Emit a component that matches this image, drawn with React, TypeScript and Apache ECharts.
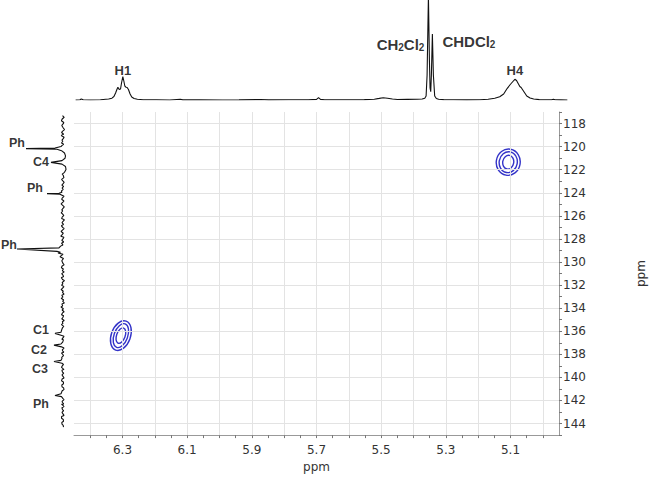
import React, { useEffect, useRef } from "react";
import * as echarts from "echarts";

// ---------- data ----------
// 1H projection (top): chemical shift (ppm) and intensity
const topPpm = [6.445, 6.432, 6.428, 6.422, 6.4, 6.37, 6.345, 6.335, 6.329, 6.324, 6.32, 6.317, 6.313, 6.309, 6.306, 6.302, 6.299, 6.296, 6.292, 6.289, 6.285, 6.28, 6.275, 6.268, 6.258, 6.24, 6.2, 6.16, 6.128, 6.12, 6.07, 6.0, 5.95, 5.885, 5.86, 5.8, 5.74, 5.715, 5.709, 5.703, 5.69, 5.62, 5.57, 5.54, 5.525, 5.513, 5.5, 5.485, 5.47, 5.44, 5.41, 5.395, 5.387, 5.383, 5.38, 5.376, 5.373, 5.371, 5.369, 5.367, 5.364, 5.361, 5.357, 5.352, 5.345, 5.33, 5.3, 5.26, 5.22, 5.195, 5.175, 5.16, 5.148, 5.137, 5.128, 5.12, 5.114, 5.109, 5.104, 5.099, 5.095, 5.09, 5.085, 5.078, 5.068, 5.057, 5.04, 5.02, 5.003, 4.997, 4.992, 4.975, 4.955];
const topInt = [0, 0.3, 1, 0.2, 0, 0.3, 1, 1.8, 3.5, 7, 10.5, 12.7, 10.5, 11, 17, 23.3, 19, 14, 12.7, 12.5, 10.5, 6, 3, 1.5, 0.7, 0.3, 0.2, 0, 0.7, 0.1, 0.1, 0, 0.1, 0.5, 0.1, 0.2, 0.3, 0.6, 2.3, 0.6, 0.2, 0.2, 0.4, 0.8, 1.6, 2.3, 1.8, 1, 0.5, 0.6, 0.7, 1, 1.8, 4, 25, 104, 40, 12, 8.3, 25, 66, 25, 4, 1.5, 0.8, 0.4, 0.3, 0.1, 0.3, 0.8, 1.8, 3.3, 6, 11.7, 15.5, 18.5, 20.7, 19.5, 16.5, 13.5, 12.5, 10, 7.5, 4, 2, 1, 0.4, 0.2, 0.3, 0.8, 0.2, 0.1, 0];

// top peak labels
const topLabelNames = ["H1", "CH2Cl2", "CHDCl2", "H4"];
const topLabelPpm = [6.302, 5.376, 5.364, 5.114];
const topLabelInt = [23.3, 57, 60, 20.7];

// 13C projection (left): chemical shift (ppm) and intensity
const leftPpm = [117.3, 117.45, 117.6, 117.75, 117.9, 118.0, 118.15, 118.3, 118.5, 118.65, 118.75, 118.9, 119.0, 119.15, 119.25, 119.4, 119.5, 119.65, 119.75, 119.85, 119.95, 120.08, 120.13, 120.18, 120.3, 120.5, 120.75, 120.95, 121.15, 121.3, 121.45, 121.65, 121.9, 122.15, 122.3, 122.4, 122.6, 122.75, 122.85, 123.0, 123.1, 123.25, 123.35, 123.5, 123.6, 123.75, 123.85, 123.94, 123.97, 124.02, 124.2, 124.35, 124.45, 124.6, 124.7, 124.85, 124.95, 125.1, 125.2, 125.35, 125.45, 125.6, 125.7, 125.85, 125.95, 126.1, 126.2, 126.35, 126.45, 126.6, 126.7, 126.85, 126.95, 127.1, 127.2, 127.35, 127.45, 127.6, 127.7, 127.85, 127.95, 128.1, 128.2, 128.35, 128.45, 128.6, 128.7, 128.9, 128.97, 129.03, 129.15, 129.35, 129.5, 129.7, 129.9, 130.05, 130.15, 130.3, 130.4, 130.55, 130.65, 130.8, 130.9, 131.05, 131.15, 131.3, 131.4, 131.55, 131.65, 131.8, 131.9, 132.05, 132.15, 132.3, 132.4, 132.55, 132.65, 132.8, 132.9, 133.05, 133.15, 133.3, 133.4, 133.55, 133.65, 133.8, 133.9, 134.05, 134.15, 134.3, 134.4, 134.55, 134.65, 134.8, 134.9, 135.05, 135.15, 135.3, 135.4, 135.55, 135.65, 135.8, 135.9, 136.05, 136.15, 136.35, 136.4, 136.45, 136.65, 136.8, 136.9, 137.05, 137.15, 137.3, 137.4, 137.5, 137.58, 137.7, 137.8, 137.95, 138.05, 138.2, 138.3, 138.45, 138.55, 138.7, 138.8, 138.93, 138.97, 139.05, 139.2, 139.3, 139.45, 139.55, 139.7, 139.8, 139.95, 140.05, 140.2, 140.3, 140.45, 140.55, 140.7, 140.8, 140.95, 141.05, 141.2, 141.3, 141.45, 141.55, 141.7, 141.8, 141.92, 141.96, 142.02, 142.15, 142.25, 142.4, 142.5, 142.65, 142.75, 142.9, 143.0, 143.15, 143.25, 143.4, 143.5, 143.65, 143.75, 143.9, 144.0, 144.15, 144.25, 144.4, 144.5, 144.65, 144.8];
const leftInt = [0.5, -1.2, 0.8, 1.6, -0.8, -0.3, 1.2, 0.2, -1.5, 0.6, 1.4, -0.6, 1.8, -1.1, -0.4, 1.0, 0.2, 1.5, -0.7, 0.9, 2, 8, 37, 6, 1.5, -1.5, -2.5, -2, 1, 12, 1, -2.5, -3, -1.5, 0.8, -0.2, -0.9, 1.4, 0.4, -1.2, -0.3, 1.1, -0.6, 0.9, -0.2, 1.7, 1.0, 4, 16, 3, -1, 0.8, 1.3, -0.9, 0.1, 1.9, 0.6, -1.3, -0.2, 1.2, 0.3, 1.8, 0.5, -0.8, 0.7, 1.4, -1.4, 0.2, 1.0, -0.5, 1.6, 0.4, -1.1, 0.8, 1.9, -0.3, 0.6, 2.2, -0.9, 0.3, 1.2, -0.7, 1.5, 0.1, 2.4, 4, 46, 6, 2.5, 5, 0, 3, -0.5, 1.2, 0.2, -1.1, 0.9, 1.6, -0.4, 0.7, -1.2, 1.3, 0.3, -0.6, 1.7, 0.4, -1.5, 0.8, 0.2, 1.4, -0.9, 0.6, 1.9, -0.3, 0.5, -1.0, 1.2, 0.1, 1.8, -0.7, 0.4, -1.3, 1.1, 0.3, 2.0, -0.4, 0.9, -1.1, 0.5, 1.5, -0.6, 0.2, 1.3, -1.2, 0.7, 0.1, 1.6, -0.8, 0.4, 1.1, 1.5, 2, 8, 2, -1, 0.6, 1.2, -0.4, 0.3, 2, 9, 1.5, -1, 0.7, 0.4, -0.8, 1.5, 0.2, -0.5, 1.3, 1, 2, 9, 1, -0.5, 0.9, 1.5, -0.3, -1, 1.1, 0.5, -0.7, 1, 0.2, -1, 0.9, 1.5, -0.4, -0.5, 1.2, 1, -0.6, -1, 0.8, 1.5, 2, 8, 1.5, 0.2, -1, 0.9, 0.5, -0.7, 1.5, 0.3, -1, 1.1, 0.5, -0.6, 1, 0.2, -1, 1.4, 1.5, -0.3, -0.5, 1.2, 1, -0.2, -0.5];

// left peak labels
const leftLabelNames = ["Ph", "C4", "Ph", "Ph", "C1", "C2", "C3", "Ph"];
const leftLabelPpm = [120.13, 121.3, 123.97, 128.97, 136.4, 137.5, 138.97, 141.96];
const leftLabelInt = [37, 12, 16, 46, 8, 9, 9, 8];

// HSQC cross-peak contours: centre (1H ppm, 13C ppm), half-widths (ppm), tilt (deg)
const contourH = [5.107, 5.107, 5.107, 6.305, 6.305, 6.305];
const contourC = [121.35, 121.35, 121.35, 136.38, 136.38, 136.38];
const contourRH = [0.037, 0.028, 0.017, 0.0297, 0.0212, 0.0133];
const contourRC = [1.14, 0.91, 0.6, 1.33, 1.08, 0.7];
const contourTilt = [-10, -10, -10, -20, -20, -20];

// axes
const xTickLabels = [6.3, 6.1, 5.9, 5.7, 5.5, 5.3, 5.1];
const xGridLines = [6.4, 6.3, 6.2, 6.1, 6.0, 5.9, 5.8, 5.7, 5.6, 5.5, 5.4, 5.3, 5.2, 5.1, 5.0];
const yTickLabels = [118, 120, 122, 124, 126, 128, 130, 132, 134, 136, 138, 140, 142, 144];

// ---------- styles ----------
const X_MIN = 4.95;
const X_MAX = 6.45;
const Y_MIN = 117;
const Y_MAX = 145;
const TRACE = "#111";
const CONTOUR = "#3333c8";
const AXIS_FONT = "'DejaVu Sans', Verdana, sans-serif";
const LABEL_FONT = "'Liberation Sans', Arial, sans-serif";
const topLabelPos = ["top", "left", "right", "top"];
const topLabelDist = [0, 4, 10, 2];
const leftLabelDist = [1, 2, 4, 0, 6, 7, 6, 6];
const leftLabelDy = [-6, 0, -6, -7, -9, -2, 0, 0];

const near = (v: number, arr: number[]) => arr.some((t) => Math.abs(t - v) < 1e-6);

export default function App() {
  const ref = useRef<HTMLDivElement>(null);
  useEffect(() => {
    if (!ref.current) return;
    const chart = echarts.init(ref.current, undefined, { renderer: "svg" });

    const subRich = {
      a: { fontFamily: LABEL_FONT, fontWeight: "bold", fontSize: 15, color: "#000", lineHeight: 18, verticalAlign: "bottom" },
      s: { fontFamily: LABEL_FONT, fontWeight: "bold", fontSize: 10, color: "#000", lineHeight: 11, verticalAlign: "bottom" },
      h: { fontFamily: LABEL_FONT, fontWeight: "bold", fontSize: 13, color: "#000" },
    };
    const fmtTop = (name: string) => {
      if (name.indexOf("Cl2") >= 0) {
        const head = name.replace(/Cl2$/, "");
        const parts = head.split("2");
        if (parts.length === 2) return `{a|${parts[0]}}{s|2}{a|${parts[1]}Cl}{s|2}`;
        return `{a|${head}Cl}{s|2}`;
      }
      return `{h|${name}}`;
    };

    const option: any = {
      animation: false,
      backgroundColor: "#fff",
      grid: [
        { left: 74, width: 495, top: 112, bottom: 38 }, // main
        { left: 74, width: 495, top: 0, height: 100 }, // top projection
        { left: 0, width: 70, top: 112, bottom: 38 }, // left projection
      ],
      xAxis: [
        {
          gridIndex: 0,
          type: "value",
          min: X_MIN,
          max: X_MAX,
          interval: 0.05,
          inverse: true,
          name: "ppm",
          nameLocation: "middle",
          nameGap: 22,
          nameTextStyle: { fontFamily: AXIS_FONT, fontSize: 12, color: "#333" },
          axisLine: { show: true, lineStyle: { color: "#999", width: 1 } },
          axisTick: { show: true, length: 3, lineStyle: { color: "#777" } },
          axisLabel: {
            margin: 9,
            fontFamily: AXIS_FONT,
            fontSize: 12,
            color: "#333",
            showMinLabel: false,
            showMaxLabel: false,
            formatter: (v: number) => (near(v, xTickLabels) ? v.toFixed(1) : ""),
          },
          splitLine: { show: false },
        },
        { gridIndex: 1, type: "value", min: X_MIN, max: X_MAX, inverse: true, show: false },
        { gridIndex: 2, type: "value", min: -7, max: 63, inverse: true, show: false },
      ],
      yAxis: [
        {
          gridIndex: 0,
          type: "value",
          position: "right",
          min: Y_MIN,
          max: Y_MAX,
          interval: 1,
          inverse: true,
          name: "ppm",
          nameLocation: "middle",
          nameGap: 76,
          nameRotate: 90,
          nameTextStyle: { fontFamily: AXIS_FONT, fontSize: 12, color: "#333" },
          axisLine: { show: true, lineStyle: { color: "#999", width: 1 } },
          axisTick: { show: true, length: 3, lineStyle: { color: "#777" } },
          axisLabel: {
            margin: 4,
            fontFamily: AXIS_FONT,
            fontSize: 12,
            color: "#333",
            formatter: (v: number) => (near(v, yTickLabels) ? String(v) : ""),
          },
          splitLine: { show: false },
        },
        { gridIndex: 1, type: "value", min: 0, max: 100, show: false },
        { gridIndex: 2, type: "value", min: Y_MIN, max: Y_MAX, inverse: true, show: false },
      ],
      series: [
        {
          name: "grid",
          type: "line",
          xAxisIndex: 0,
          yAxisIndex: 0,
          data: [],
          silent: true,
          markLine: {
            silent: true,
            symbol: ["none", "none"],
            label: { show: false },
            lineStyle: { color: "#e3e3e3", width: 1, type: "solid" },
            data: [
              ...xGridLines.map((v) => ({ xAxis: v })),
              ...yTickLabels.map((v) => ({ yAxis: v })),
            ],
          },
        },
        {
          name: "contours",
          type: "custom",
          xAxisIndex: 0,
          yAxisIndex: 0,
          silent: true,
          data: contourH.map((h, i) => [h, contourC[i], contourRH[i], contourRC[i], contourTilt[i]]),
          renderItem: (params: any, api: any) => {
            const c = api.coord([api.value(0), api.value(1)]);
            const s = api.size([api.value(2), api.value(3)]);
            return {
              type: "ellipse",
              x: c[0],
              y: c[1],
              rotation: (api.value(4) * Math.PI) / 180,
              shape: { cx: 0, cy: 0, rx: s[0], ry: s[1] },
              style: { fill: "none", stroke: CONTOUR, lineWidth: 1.4 },
            };
          },
        },
        {
          name: "1H",
          type: "line",
          xAxisIndex: 1,
          yAxisIndex: 1,
          data: topPpm.map((p, i) => [p, topInt[i]]),
          showSymbol: false,
          symbol: "none",
          clip: true,
          lineStyle: { color: TRACE, width: 1.1 },
          silent: true,
        },
        {
          name: "1H labels",
          type: "scatter",
          xAxisIndex: 1,
          yAxisIndex: 1,
          symbolSize: 0,
          silent: true,
          data: topLabelNames.map((n, i) => ({
            value: [topLabelPpm[i], topLabelInt[i]],
            name: n,
            label: {
              show: true,
              position: topLabelPos[i],
              distance: topLabelDist[i],
              formatter: fmtTop(n),
              rich: subRich,
            },
          })),
        },
        {
          name: "13C",
          type: "line",
          xAxisIndex: 2,
          yAxisIndex: 2,
          data: leftPpm.map((p, i) => [leftInt[i], p]),
          showSymbol: false,
          symbol: "none",
          lineStyle: { color: TRACE, width: 1.1 },
          silent: true,
        },
        {
          name: "13C labels",
          type: "scatter",
          xAxisIndex: 2,
          yAxisIndex: 2,
          symbolSize: 0,
          silent: true,
          data: leftLabelNames.map((n, i) => ({
            value: [leftLabelInt[i], leftLabelPpm[i]],
            name: n,
            label: {
              show: true,
              position: "left",
              distance: leftLabelDist[i],
              offset: [0, leftLabelDy[i]],
              formatter: n,
              fontFamily: LABEL_FONT,
              fontWeight: "bold",
              fontSize: 12.5,
              color: "#000",
            },
          })),
        },
      ],
    };
    chart.setOption(option);
    return () => chart.dispose();
  }, []);
  return <div ref={ref} style={{ width: 655, height: 478, position: "absolute", left: 0, top: 0 }} />;
}
